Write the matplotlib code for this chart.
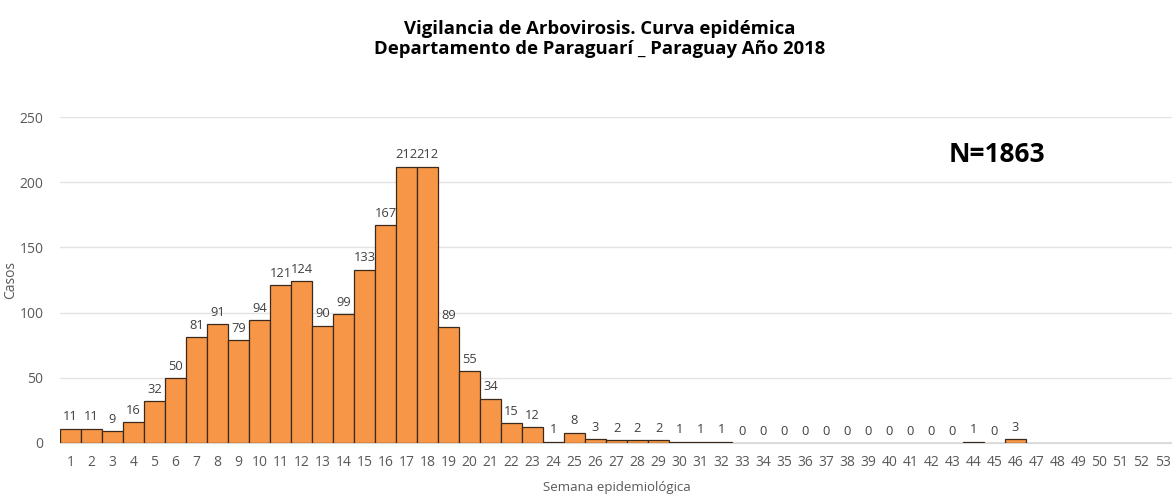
import numpy as np
import matplotlib.pyplot as plt

plt.rcParams['font.family'] = ['Open Sans', 'DejaVu Sans']

# Weekly cases (semana epidemiologica 1..53); None = sin dato
weeks = list(range(1, 54))
cases = [11, 11, 9, 16, 32, 50, 81, 91, 79, 94,
         121, 124, 90, 99, 133, 167, 212, 212, 89, 55,
         34, 15, 12, 1, 8, 3, 2, 2, 2, 1,
         1, 1, 0, 0, 0, 0, 0, 0, 0, 0,
         0, 0, 0, 1, 0, 3,
         None, None, None, None, None, None, None]
total_label = 'N=1863'

fig = plt.figure(figsize=(11.72, 4.96), dpi=100)
ax = fig.add_axes([60 / 1172, 53 / 496, 1113 / 1172, 326 / 496])

x = np.array(weeks)
h = np.array([np.nan if c is None else c for c in cases], dtype=float)
ax.bar(x, np.nan_to_num(h), width=1.0, color='#F79646', edgecolor='#3b2a1c', linewidth=0.9, zorder=3)

for xi, c in zip(weeks, cases):
    if c is None:
        continue
    ax.text(xi, c + 4, str(c), ha='center', va='bottom', fontsize=9.3, color='#404040')

ax.set_xlim(0.5, 53.5)
ax.set_ylim(0, 250)
ax.set_yticks(range(0, 251, 50))
ax.set_xticks(weeks)
ax.grid(axis='y', color='#e3e3e3', linewidth=1, zorder=0)
for s in ['top', 'right', 'left']:
    ax.spines[s].set_visible(False)
ax.spines['bottom'].set_color('#d9d9d9')
ax.tick_params(axis='both', length=0, labelsize=10, labelcolor='#595959')
ax.tick_params(axis='x', pad=9)
ax.tick_params(axis='y', pad=12)

ax.set_ylabel('Casos', fontsize=10, color='#595959')
ax.set_xlabel('Semana epidemiológica', fontsize=9.5, color='#595959')
ax.yaxis.set_label_coords(-0.038, 0.5)
ax.xaxis.set_label_coords(0.5, -0.118)

fig.text(0.512, 0.96, 'Vigilancia de Arbovirosis. Curva epidémica\nDepartamento de Paraguarí _ Paraguay Año 2018',
         ha='center', va='top', fontsize=13.3, fontweight='bold', color='black', linespacing=1.15)
ax.text(0.842, 0.885, total_label, transform=ax.transAxes, ha='center', va='center',
        fontsize=19, fontweight='bold', color='black')

fig.savefig('out.png', dpi=100)
